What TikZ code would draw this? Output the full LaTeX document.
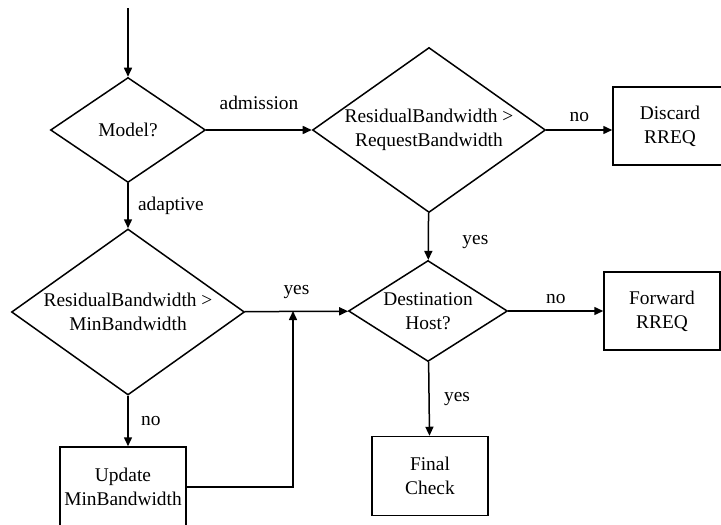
\documentclass[tikz,border=0pt]{standalone}
\usepackage{fontspec}
\setmainfont{Liberation Serif}
\usetikzlibrary{shapes.geometric,arrows.meta}

\begin{document}
\begin{tikzpicture}[x=1pt, y=-1pt, line width=1.5pt,
    font=\fontsize{19.4}{24}\selectfont,
    decision/.style = {draw, diamond, inner sep=0pt, align=center},
    block/.style = {draw, rectangle, inner sep=0pt, align=center, minimum width=116pt, minimum height=78pt},
    >={Triangle[length=9pt, width=8pt]}]
            \useasboundingbox (0,0) rectangle (721,525);
            \coordinate (start) at (128,8);
            \node[decision, aspect=1.48, minimum width=155pt, minimum height=105pt] (model) at (128,130) {Model?};
            \node[decision, aspect=1.41, minimum width=233pt, minimum height=165pt] (rbreq) at (429,130) {ResidualBandwidth >\\RequestBandwidth};
            \node[block, minimum width=114pt] (discard) at (670,126) {Discard\\RREQ};
            \node[decision, aspect=1.41, minimum width=233pt, minimum height=166pt] (rbmin) at (128,312) {ResidualBandwidth >\\MinBandwidth};
            \node[decision, aspect=1.58, minimum width=159pt, minimum height=101pt] (dest) at (428,311) {Destination\\Host?};
            \node[block] (forward) at (662,311) {Forward\\RREQ};
            \node[block, minimum height=79pt] (final) at (430,476) {Final\\Check};
            \node[block, minimum width=126pt, minimum height=80pt] (update) at (123,487) {Update\\MinBandwidth};
            \coordinate (join) at (293,311);
            \path[->]
            (start) edge node[] {} (model)
            (model) edge node[above=16pt] {admission} (rbreq)
            (rbreq.east) edge node[above=4pt] {no} (rbreq.east -| discard.west)
            (rbreq) edge node[right=30pt, yshift=-6pt] {yes} (dest)
            (model) edge node[right=6pt] {adaptive} (rbmin)
            (rbmin) edge node[above=9pt] {yes} (dest)
            (rbmin.south) edge node[right=9pt] {no} (rbmin.south |- update.north)
            (dest) edge node[above=3pt] {no} (forward)
            (dest) edge node[right=11pt] {yes} (final);
            \draw[->] (update.east) -| (join);
        \end{tikzpicture}
\end{document}
